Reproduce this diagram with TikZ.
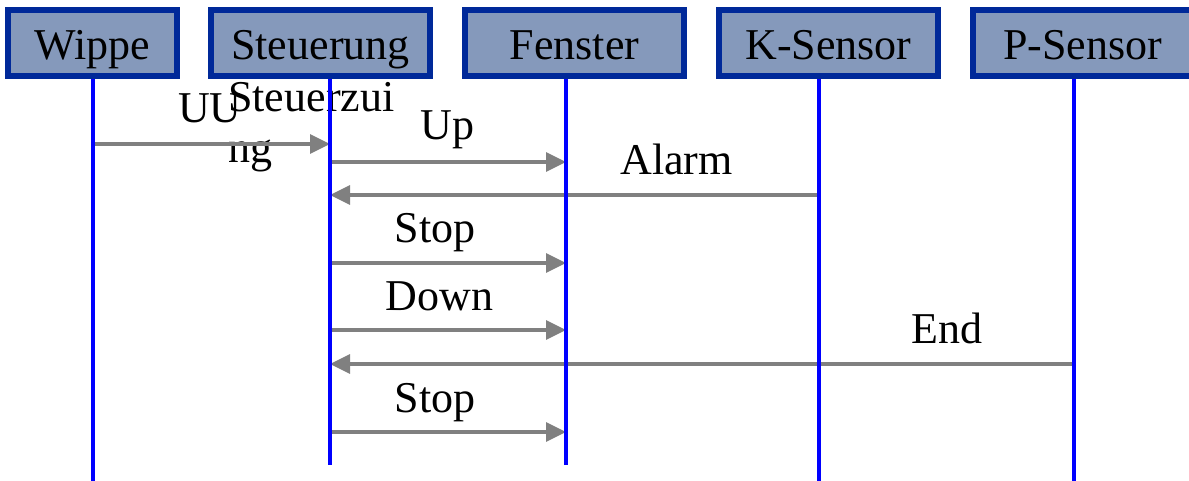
\documentclass[tikz,border=0pt]{standalone}
\usepackage{fontspec}
\setmainfont{Liberation Serif}
\usetikzlibrary{arrows.meta}
\definecolor{boxfill}{RGB}{133,153,187}
\definecolor{boxline}{RGB}{0,41,153}
\begin{document}
\begin{tikzpicture}[x=0.75pt, y=-0.75pt, font=\fontsize{33}{38.25}\selectfont, line join=miter,
	actor/.style={draw=boxline, fill=boxfill, line width=4.5pt, inner sep=0pt, minimum width=164.25pt, text height=37.5pt, text depth=12pt},
	life/.style={blue, line width=2.6pt},
	msg/.style={gray, line width=2.8pt, -{Triangle[length=15pt,width=14pt]}},
	lbl/.style={anchor=base, inner sep=0pt}]
	\useasboundingbox (0,0) rectangle (1189,481);
	\node[actor, minimum width=126.75pt] (wippe) at (92.5,43) {Wippe};
	\node[actor] (steu) at (320.5,43) {Steuerung};
	\node[actor] (fenster) at (574.5,43) {Fenster};
	\node[actor] (ksens) at (828.5,43) {K-Sensor};
	\node[actor] (psens) at (1082.5,43) {P-Sensor};
	\coordinate (wippeE) at (93,481);
	\coordinate (steuE) at (330,465);
	\coordinate (fensterE) at (566,465);
	\coordinate (ksensE) at (819,481);
	\coordinate (psensE) at (1074,481);
	\node[lbl] (uu) at (210,123) {UU};
	\node[lbl, align=left, anchor=north west] (steuerzui) at (228,82) {Steuerzui\\ng};
	\node[lbl] (up) at (447.5,140) {Up};
	\node[lbl] (alarm) at (676.5,175) {Alarm};
	\node[lbl] (stopa) at (435,243) {Stop};
	\node[lbl] (down) at (439.5,310) {Down};
	\node[lbl] (endlbl) at (947,343) {End};
	\node[lbl] (stopb) at (435,412) {Stop};
	\draw[msg] (wippeE |- 0,144) -- (steuE |- 0,144);
	\draw[msg] (steuE |- 0,162) -- (fensterE |- 0,162);
	\draw[msg] (ksensE |- 0,195) -- (steuE |- 0,195);
	\draw[msg] (steuE |- 0,263) -- (fensterE |- 0,263);
	\draw[msg] (steuE |- 0,330) -- (fensterE |- 0,330);
	\draw[msg] (psensE |- 0,364) -- (steuE |- 0,364);
	\draw[msg] (steuE |- 0,432) -- (fensterE |- 0,432);
	\draw[life] (wippe.south -| wippeE) -- (wippeE)
	(steu.south -| steuE) -- (steuE)
	(fenster.south -| fensterE) -- (fensterE)
	(ksens.south -| ksensE) -- (ksensE)
	(psens.south -| psensE) -- (psensE);
\end{tikzpicture}
\end{document}
